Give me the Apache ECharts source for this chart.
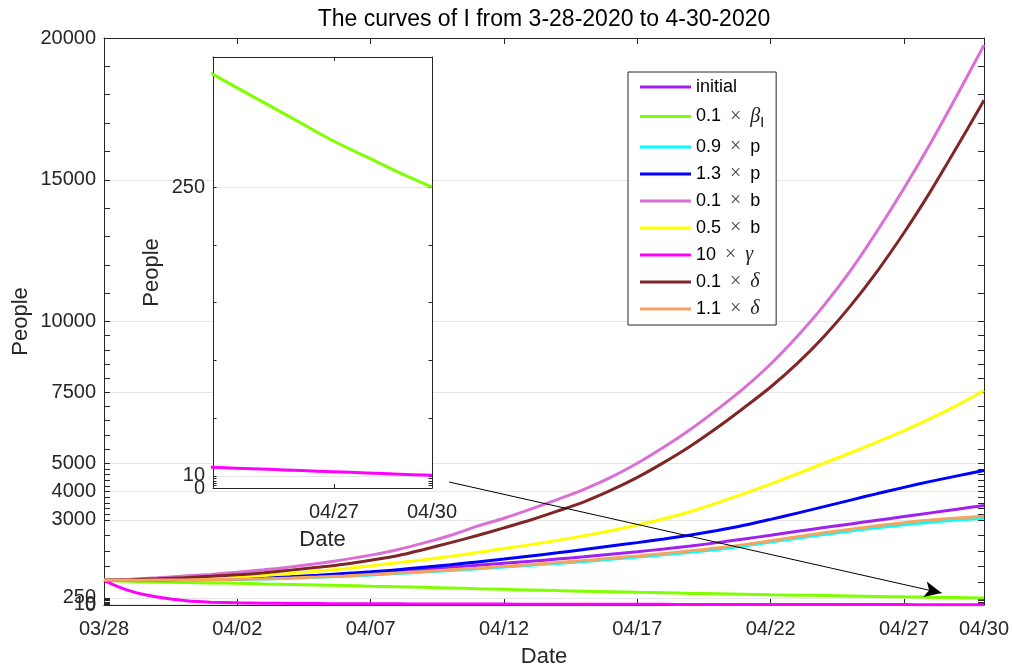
<!DOCTYPE html>
<html>
<head>
<meta charset="utf-8">
<script src="https://cdn.jsdelivr.net/npm/echarts@6/dist/echarts.min.js"></script>
<style>
html,body{margin:0;padding:0;background:#ffffff;}
#chart{width:1012px;height:667px;}
</style>
</head>
<body>
<div id="chart"></div>
<script>
// ---------- data ----------
const dates = ['03/28','03/29','03/30','03/31','04/01','04/02','04/03','04/04','04/05','04/06',
  '04/07','04/08','04/09','04/10','04/11','04/12','04/13','04/14','04/15','04/16',
  '04/17','04/18','04/19','04/20','04/21','04/22','04/23','04/24','04/25','04/26',
  '04/27','04/28','04/29','04/30'];

const seriesNames = ['initial','0.1 x betaI','0.9 x p','1.3 x p','0.1 x b','0.5 x b','10 x gamma','0.1 x delta','1.1 x delta'];

const initialVals = [870,875,880,890,900,915,940,975,1020,1070,1120,1190,1260,1330,1400,1470,1540,1620,1700,1790,1880,1975,2080,2200,2330,2460,2600,2730,2860,2990,3120,3250,3380,3510];
const betaIVals   = [870,835,812,795,780,767,745,725,705,685,665,648,625,600,575,552,530,508,488,468,448,430,410,393,376,361,348,333,318,303,288,275,262,250];
const p09Vals     = [870,871,876,882,889,900,918,944,975,1013,1060,1108,1160,1218,1276,1338,1400,1468,1536,1612,1690,1776,1862,1958,2080,2220,2355,2485,2610,2725,2830,2920,2995,3062];
const p13Vals     = [870,875,885,898,910,925,960,1000,1050,1110,1170,1240,1330,1420,1520,1620,1730,1840,1960,2080,2200,2330,2470,2630,2810,3020,3240,3470,3700,3930,4150,4360,4555,4744];
const b01Vals     = [870,910,960,1020,1080,1155,1240,1340,1460,1600,1760,1950,2190,2460,2780,3060,3380,3720,4080,4500,5000,5570,6200,6900,7650,8500,9480,10570,11800,13200,14700,16300,18000,19750];
const b05Vals     = [870,880,895,915,945,980,1040,1110,1190,1280,1380,1490,1600,1720,1850,1990,2130,2280,2440,2620,2820,3040,3300,3600,3930,4270,4630,5000,5370,5750,6150,6580,7050,7566];
const gammaDays   = [0,0.5,1,1.5,2,2.5,3,3.5,4,5,6,7,8,9,10,11,12,13,14,15,16,17,18,19,20,21,22,23,24,25,26,27,28,29,30,31,32,33];
const gammaVals   = [870,660,490,370,285,215,160,120,100,78,65,56,50,46,43,40,37.5,35,33,31,29,27.5,26,25,24,22.5,21.5,20.5,19.5,18.5,17.5,16.5,15.5,14.5,13.5,12.5,11.5,10.5];
const delta01Vals = [870,895,925,965,1010,1065,1140,1230,1330,1440,1580,1740,1960,2200,2450,2720,3000,3310,3640,4040,4500,5030,5610,6260,6960,7690,8520,9470,10560,11780,13130,14600,16180,17800];
const delta11Vals = [870,872,878,885,893,905,925,952,985,1025,1075,1125,1180,1240,1300,1365,1430,1500,1570,1650,1730,1820,1910,2010,2130,2270,2410,2545,2675,2795,2905,3000,3070,3132];

// tick labels / tick positions
const xTickDays     = [0,5,10,15,20,25,30,33];
const yLabelVals    = [0,3000,4000,5000,7500,10000,15000,20000];
const yLabel10      = [10];
const yLabel250     = [250];
const yGridVals     = [0,10,250,3000,4000,5000,7500,10000,15000,20000];
const yMinorVals    = [2,4,6,8,58,106,154,202,800,1350,1900,2450,3200,3400,3600,3800,4200,4400,4600,4800,
                       5500,6000,6500,7000,8000,8500,9000,9500,11000,12000,13000,14000,16000,17000,18000,19000];
const insetXTicks   = [30,33];
const insetYLabels  = [0,250];
const insetYExtra   = [10];
const insetYGrid    = [0,10,250];
const insetYMinor   = [2,4,6,8,58,106,154,202];

// annotation arrow (data coordinates: [day, people])
const arrowStart = [12.94, 4339];
const arrowEnd   = [31.41, 423];

// ---------- styling ----------
const FONT = '"Liberation Sans", Arial, Helvetica, sans-serif';
const SERIF = '"Liberation Serif", "Times New Roman", serif';
const AX = '#262626';
const GRIDC = '#e6e6e6';
const colors = ['#A020F0','#7FFF00','#00FFFF','#0000FF','#DA70D6','#FFFF00','#FF00FF','#802626','#F4A460'];
const legendText = {
  'initial': 'initial',
  '0.1 x betaI': '0.1 {x|×} {gb|β}{sub|I}',
  '0.9 x p': '0.9 {x|×} p',
  '1.3 x p': '1.3 {x|×} p',
  '0.1 x b': '0.1 {x|×} b',
  '0.5 x b': '0.5 {x|×} b',
  '10 x gamma': '10 {x|×} {g|γ}',
  '0.1 x delta': '0.1 {x|×} {g|δ}',
  '1.1 x delta': '1.1 {x|×} {g|δ}'
};

const toPairs = vals => vals.map((v, i) => [i, v]);
const mainData = [
  toPairs(initialVals), toPairs(betaIVals), toPairs(p09Vals), toPairs(p13Vals),
  toPairs(b01Vals), toPairs(b05Vals), gammaDays.map((d, i) => [d, gammaVals[i]]),
  toPairs(delta01Vals), toPairs(delta11Vals)
];

const axLine = {show: true, onZero: false, lineStyle: {color: AX, width: 1}};
const tickStyle = {color: AX, width: 1};
const labelStyle = {fontSize: 20, fontFamily: FONT, color: AX};

function xAxisDef(grid, pos, min, max, ticks, showLabels, tickLen, z) {
  return {
    type: 'value', gridIndex: grid, position: pos, min: min, max: max, z: z,
    axisLine: axLine,
    axisTick: {show: true, inside: true, length: tickLen, customValues: ticks, lineStyle: tickStyle},
    axisLabel: showLabels ? Object.assign({show: true, customValues: ticks, formatter: v => dates[Math.round(v)],
      showMinLabel: true, showMaxLabel: true, margin: 14}, labelStyle) : {show: false},
    splitLine: {show: false},
    name: showLabels ? 'Date' : '', nameLocation: 'middle', nameGap: 41, nameMoveOverlap: false,
    nameTextStyle: {fontSize: 22, fontFamily: FONT, color: AX}
  };
}
function yAxisDef(grid, pos, min, max, labels, ticks, showLabels, tickLen, z, nameGap) {
  return {
    type: 'value', gridIndex: grid, position: pos, min: min, max: max, z: z,
    axisLine: axLine,
    axisTick: {show: true, inside: true, length: tickLen, customValues: ticks, lineStyle: tickStyle},
    axisLabel: showLabels ? Object.assign({show: true, customValues: labels, formatter: v => String(v),
      showMinLabel: true, showMaxLabel: true, margin: 8}, labelStyle) : {show: false},
    splitLine: {show: false},
    name: showLabels ? 'People' : '', nameLocation: 'middle', nameGap: nameGap || 0, nameRotate: 90,
    nameMoveOverlap: false,
    nameTextStyle: {fontSize: 22, fontFamily: FONT, color: AX}
  };
}
// axis used only for horizontal grid lines and/or a single extra label (kept separate so overlapping labels stay visible)
function helperAxis(grid, min, max, gridVals, extraLabels, showGrid, z) {
  return {
    type: 'value', gridIndex: grid, position: 'left', min: min, max: max, z: z,
    axisLine: {show: false, onZero: false},
    axisTick: {show: false, customValues: gridVals},
    axisLabel: Object.assign({show: true, customValues: extraLabels, formatter: v => String(v),
      showMinLabel: true, showMaxLabel: true, margin: 8}, labelStyle),
    splitLine: {show: showGrid, lineStyle: {color: GRIDC, width: 1}}
  };
}

const series = [];
seriesNames.forEach((name, i) => {
  series.push({
    name: name, type: 'line', xAxisIndex: 0, yAxisIndex: 0,
    data: mainData[i], showSymbol: false, symbol: 'none', color: colors[i],
    smooth: 0.3,
    lineStyle: {width: 3, color: colors[i]}, z: 2 + i * 0.01, clip: true, silent: true
  });
});
// annotation arrow on top
series[series.length - 1].markLine = {
  silent: true, symbol: ['none', 'arrow'], symbolSize: [12, 17],
  label: {show: false}, lineStyle: {color: '#000', width: 1, type: 'solid'},
  data: [[{coord: arrowStart}, {coord: arrowEnd}]], animation: false
};
// inset series
series.push({
  name: 'inset-beta', type: 'line', xAxisIndex: 2, yAxisIndex: 3,
  data: toPairs(betaIVals), showSymbol: false, symbol: 'none', color: colors[1],
  smooth: 0.3,
  lineStyle: {width: 3, color: colors[1]}, z: 5, clip: true, silent: true
});
series.push({
  name: 'inset-gamma', type: 'line', xAxisIndex: 2, yAxisIndex: 3,
  data: gammaDays.map((d, i) => [d, gammaVals[i]]), showSymbol: false, symbol: 'none', color: colors[6],
  smooth: 0.3,
  lineStyle: {width: 3, color: colors[6]}, z: 5, clip: true, silent: true
});

const option = {
  animation: false,
  backgroundColor: '#ffffff',
  textStyle: {fontFamily: FONT},
  graphic: [{
    type: 'text', x: 544, y: 20, z: 10,
    style: {text: 'The curves of I from 3-28-2020 to 4-30-2020', align: 'center', verticalAlign: 'middle',
      fontSize: 23, fontFamily: FONT, fill: '#000'}
  }],
  grid: [
    {left: 104, top: 38, width: 880, height: 567, show: false, outerBoundsMode: 'none', containLabel: false},
    {left: 213, top: 57, width: 219, height: 431, show: true, backgroundColor: '#ffffff', borderWidth: 0,
     z: 3, outerBoundsMode: 'none', containLabel: false}
  ],
  xAxis: [
    xAxisDef(0, 'bottom', 0, 33, xTickDays, true, 6, 1),
    xAxisDef(0, 'top', 0, 33, xTickDays, false, 6, 1),
    xAxisDef(1, 'bottom', 26.3, 33, insetXTicks, true, 4, 4),
    xAxisDef(1, 'top', 26.3, 33, insetXTicks, false, 4, 4)
  ],
  yAxis: [
    yAxisDef(0, 'left', 0, 20000, yLabelVals, yGridVals.concat(yMinorVals), true, 6, 1, 72),
    yAxisDef(0, 'right', 0, 20000, yLabelVals, yGridVals.concat(yMinorVals), false, 6, 1),
    helperAxis(0, 0, 20000, yGridVals, yLabel10, true, 0),
    yAxisDef(1, 'left', 0, 358, insetYLabels, insetYGrid.concat(insetYMinor), true, 3.5, 4, 50),
    yAxisDef(1, 'right', 0, 358, insetYLabels, insetYGrid.concat(insetYMinor), false, 3.5, 4),
    helperAxis(1, 0, 358, insetYGrid, insetYExtra, true, 4),
    helperAxis(0, 0, 20000, yLabel250, yLabel250, false, 0)
  ],
  legend: {
    show: true, data: seriesNames, orient: 'vertical', left: 628, top: 72,
    itemWidth: 51, itemHeight: 3, icon: 'rect', itemGap: 7, itemTextGap: 5,
    padding: [6, 12, 6, 12], borderColor: AX, borderWidth: 1, backgroundColor: '#ffffff',
    selectedMode: false, z: 8,
    formatter: name => legendText[name],
    textStyle: {
      fontSize: 18, fontFamily: FONT, color: '#000', lineHeight: 18,
      rich: {
        x: {fontSize: 20, fontFamily: SERIF, color: '#444', lineHeight: 18, padding: [0, 4, 0, 4]},
        g: {fontSize: 20, fontFamily: SERIF, fontStyle: 'italic', color: '#222', lineHeight: 18},
        gb: {fontSize: 20, fontFamily: SERIF, fontStyle: 'italic', color: '#222', lineHeight: 27},
        sub: {fontSize: 14, fontFamily: FONT, color: '#000', lineHeight: 14, verticalAlign: 'bottom'}
      }
    }
  },
  series: series
};

const chart = echarts.init(document.getElementById('chart'), null, {renderer: 'canvas'});
chart.setOption(option);
</script>
</body>
</html>
